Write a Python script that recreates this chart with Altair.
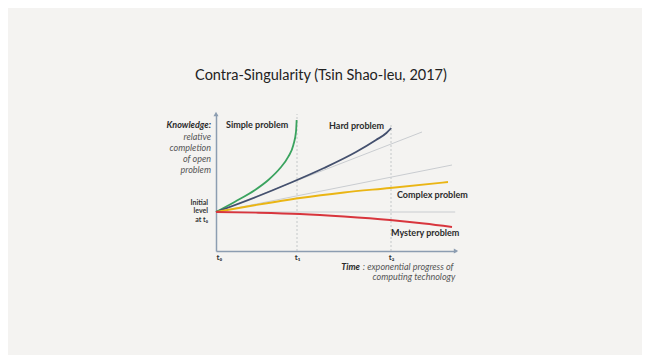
import altair as alt
import pandas as pd

# ---- data (x: time units with t1 ~ 1, y: knowledge level) ----
green_x = [0, 0.2375, 0.4875, 0.654, 0.8, 0.904, 0.967, 1.0, 1.008]
green_y = [0.39, 0.493, 0.61, 0.71, 0.827, 0.943, 1.06, 1.193, 1.31]
hard_x = [0, 0.5, 0.925, 1.35, 1.75, 2.0, 2.13, 2.19]
hard_y = [0.39, 0.54, 0.68, 0.83, 0.99, 1.11, 1.18, 1.23]
complex_x = [0, 0.5, 1.05, 1.6, 2.175, 2.9]
complex_y = [0.39, 0.46, 0.53, 0.585, 0.63, 0.69]
mystery_x = [0, 0.5, 1.05, 1.6, 2.175, 2.6, 2.95]
mystery_y = [0.39, 0.383, 0.37, 0.345, 0.31, 0.275, 0.24]
ref1_x = [0, 2.575]
ref1_y = [0.39, 1.19]
ref2_x = [0, 2.95]
ref2_y = [0.39, 0.86]
ref3_x = [0, 2.99]
ref3_y = [0.39, 0.39]

tick_values = [0, 1.0125, 2.1875]
tick_labels = ["t₀", "t₁", "t₂"]
vline_x = [1.0125, 2.1875]
vline_bottom = [0, 0]
vline_top = [1.37, 1.27]

problem_labels = ["Simple problem", "Hard problem", "Complex problem", "Mystery problem"]
problem_x = [0.125, 1.4125, 2.2625, 2.1875]
problem_y = [1.26, 1.25, 0.56, 0.18]

ylab_lines = ["relative", "completion", "of open", "problem"]
ylab_x = [-0.0625] * 4
ylab_y = [1.14, 1.03, 0.92, 0.81]
init_lines = ["Initial", "level", "at t₀"]
init_x = [-0.1] * 3
init_y = [0.48, 0.40, 0.31]

time_bold_text = ["Time"]
time_bold_x = [1.8]
time_rest_text = [": exponential progress of", "computing technology"]
time_rest_x = [1.835, 2.99]
time_rest_align = ["left", "right"]
time_y = [-0.155, -0.255]

BG = "#f4f3f1"
AXC = "#8c9db1"
FONT = "Lato"

rows = []
for name, xs_, ys_ in [("simple", green_x, green_y), ("hard", hard_x, hard_y),
                       ("complex", complex_x, complex_y), ("mystery", mystery_x, mystery_y)]:
    for i, (a, b) in enumerate(zip(xs_, ys_)):
        rows.append({"s": name, "x": a, "y": b, "o": i})
curves = pd.DataFrame(rows)

refrows = []
for name, xs_, ys_ in [("r1", ref1_x, ref1_y), ("r2", ref2_x, ref2_y), ("r3", ref3_x, ref3_y)]:
    for i, (a, b) in enumerate(zip(xs_, ys_)):
        refrows.append({"s": name, "x": a, "y": b, "o": i})
refs = pd.DataFrame(refrows)

xs = alt.Scale(domain=[0, 3], nice=False, zero=False)
ys = alt.Scale(domain=[0, 1.37], nice=False, zero=False)

labelexpr = ("datum.value < 0.5 ? '%s' : datum.value < 1.5 ? '%s' : '%s'"
             % tuple(tick_labels))

base_axes = alt.Chart(pd.DataFrame({"x": [0.0], "y": [0.0]})).mark_point(opacity=0).encode(
    x=alt.X("x:Q", scale=xs, title=None,
            axis=alt.Axis(values=tick_values, labelExpr=labelexpr, ticks=False, grid=False,
                          domainColor=AXC, domainWidth=1.5, labelFont=FONT, labelFontSize=8,
                          labelFontWeight="bold", labelColor="#333", labelPadding=2)),
    y=alt.Y("y:Q", scale=ys, title=None,
            axis=alt.Axis(labels=False, ticks=False, grid=False, domainColor=AXC, domainWidth=1.5)),
)

vl = alt.Chart(pd.DataFrame({"x": vline_x, "y": vline_bottom, "y2": vline_top})).mark_rule(
    color="#b9bcc0", strokeDash=[2, 2], strokeWidth=0.8).encode(
    x=alt.X("x:Q", scale=xs), y=alt.Y("y:Q", scale=ys), y2="y2:Q")

ref_lines = alt.Chart(refs).mark_line(color="#c9ccd0", strokeWidth=1).encode(
    x=alt.X("x:Q", scale=xs), y=alt.Y("y:Q", scale=ys), detail="s:N", order="o:Q")

cl = alt.Chart(curves).mark_line(strokeWidth=1.8, interpolate="monotone").encode(
    x=alt.X("x:Q", scale=xs), y=alt.Y("y:Q", scale=ys),
    color=alt.Color("s:N", scale=alt.Scale(domain=["simple", "hard", "complex", "mystery"],
                                           range=["#3aa35f", "#44506e", "#eab514", "#d8353d"]),
                    legend=None),
    order="o:Q")

arrows = alt.Chart(pd.DataFrame({"x": [0.0, 3.0], "y": [1.37, 0.0],
                                 "sh": ["triangle-up", "triangle-right"]})).mark_point(
    filled=True, color=AXC, size=25, opacity=1).encode(
    x=alt.X("x:Q", scale=xs), y=alt.Y("y:Q", scale=ys),
    shape=alt.Shape("sh:N", scale=None))

plabels = alt.Chart(pd.DataFrame({"t": problem_labels, "x": problem_x, "y": problem_y})).mark_text(
    align="left", baseline="middle", font=FONT, fontSize=9, fontWeight="bold", color="#2b2b2b").encode(
    x=alt.X("x:Q", scale=xs), y=alt.Y("y:Q", scale=ys), text="t:N")

klabel = alt.Chart(pd.DataFrame({"t": ["Knowledge:"], "x": [-0.0625], "y": [1.26]})).mark_text(
    align="right", baseline="middle", font=FONT, fontSize=9, fontWeight="bold", fontStyle="italic",
    color="#2b2b2b").encode(x=alt.X("x:Q", scale=xs), y=alt.Y("y:Q", scale=ys), text="t:N")

ylabels = alt.Chart(pd.DataFrame({"t": ylab_lines, "x": ylab_x, "y": ylab_y})).mark_text(
    align="right", baseline="middle", font=FONT, fontSize=9, fontStyle="italic", color="#555").encode(
    x=alt.X("x:Q", scale=xs), y=alt.Y("y:Q", scale=ys), text="t:N")

ilabels = alt.Chart(pd.DataFrame({"t": init_lines, "x": init_x, "y": init_y})).mark_text(
    align="right", baseline="middle", font=FONT, fontSize=7, fontWeight="bold", color="#333").encode(
    x=alt.X("x:Q", scale=xs), y=alt.Y("y:Q", scale=ys), text="t:N")

time_bold = alt.Chart(pd.DataFrame({"t": time_bold_text, "x": time_bold_x, "y": time_y[:1]})).mark_text(
    align="right", baseline="middle", font=FONT, fontSize=9, fontWeight="bold", fontStyle="italic",
    color="#2b2b2b").encode(x=alt.X("x:Q", scale=xs), y=alt.Y("y:Q", scale=ys), text="t:N")
time_rest_l = alt.Chart(pd.DataFrame({"t": time_rest_text[:1], "x": time_rest_x[:1],
                                      "y": time_y[:1]})).mark_text(
    align="left", baseline="middle", font=FONT, fontSize=9, fontStyle="italic", color="#555").encode(
    x=alt.X("x:Q", scale=xs), y=alt.Y("y:Q", scale=ys), text="t:N")
time_rest_r = alt.Chart(pd.DataFrame({"t": time_rest_text[1:], "x": time_rest_x[1:],
                                      "y": time_y[1:]})).mark_text(
    align="right", baseline="middle", font=FONT, fontSize=9, fontStyle="italic", color="#555").encode(
    x=alt.X("x:Q", scale=xs), y=alt.Y("y:Q", scale=ys), text="t:N")

chart = alt.layer(base_axes, vl, ref_lines, cl, arrows, plabels, klabel, ylabels, ilabels,
                  time_bold, time_rest_l, time_rest_r).properties(
    width=240, height=137,
    padding={"left": 208, "top": 106, "right": 186, "bottom": 104},
    autosize=alt.AutoSizeParams(type="none"),
    background=BG,
    title=alt.TitleParams("Contra-Singularity (Tsin Shao-leu, 2017)", anchor="middle", dx=-15,
                          font=FONT, fontSize=14.5, fontWeight="normal", color="#222", offset=28),
).configure_view(stroke=None)

chart.save("out.html", embed_options={"renderer": "svg", "actions": False})
